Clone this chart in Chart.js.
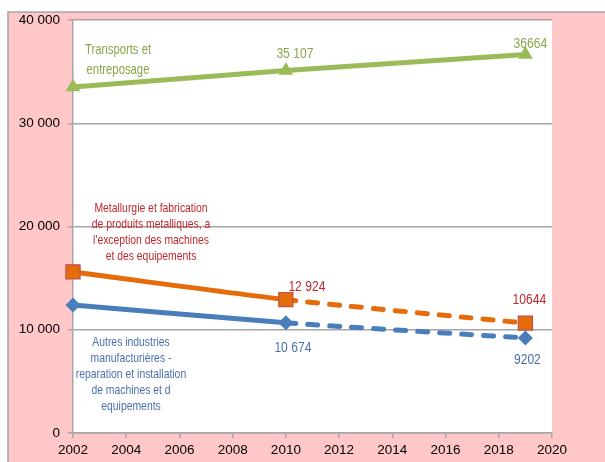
<!DOCTYPE html>
<html><head><meta charset="utf-8">
<script src="https://cdn.jsdelivr.net/npm/chart.js@4/dist/chart.umd.min.js"></script>
<style>html,body{margin:0;padding:0;background:#fff}#c{display:block}</style>
</head><body>
<canvas id="c" width="605" height="462"></canvas>
<script>
const years = [2002, 2010, 2019];
const transports = [33500, 35107, 36664];
const metallurgie = [15600, 12924, 10644];
const autres = [12400, 10674, 9202];
const transportsLabels = ['', '35 107', '36664'];
const metallurgieLabels = ['', '12 924', '10644'];
const autresLabels = ['', '10 674', '9202'];
const xTicks = [2002, 2004, 2006, 2008, 2010, 2012, 2014, 2016, 2018, 2020];
const yTicks = [0, 10000, 20000, 30000, 40000];
const seriesNames = [
  ['Transports et', 'entreposage'],
  ['Metallurgie et fabrication', 'de produits metalliques, a', "l'exception des machines", 'et des equipements'],
  ['Autres industries', 'manufacturières -', 'reparation et installation', 'de machines et d', 'equipements']
];

const FONT = "'Liberation Sans', Arial, sans-serif";
const pts = arr => years.map((y, i) => ({x: y, y: arr[i]}));
const dashAfter = ctx => ctx.p0DataIndex >= 1 ? [10, 12] : undefined;

// draw condensed text (Calibri-like width)
function narrowText(c, t, x, y, k) {
  c.save();
  c.translate(x, y);
  c.scale(k, 1);
  c.fillText(t, 0, 0);
  c.restore();
}

const bgPlugin = {
  id: 'bg',
  beforeDraw(chart) {
    const c = chart.ctx, a = chart.chartArea;
    c.save();
    c.fillStyle = '#fff'; c.fillRect(0, 0, chart.width, chart.height);
    c.fillStyle = '#ffc7c7'; c.fillRect(8, 12, chart.width - 8, chart.height - 12);
    c.strokeStyle = '#a6a6a6'; c.lineWidth = 1.5;
    c.beginPath(); c.moveTo(8, chart.height); c.lineTo(8, 12); c.lineTo(chart.width, 12); c.stroke();
    c.fillStyle = '#fff'; c.fillRect(a.left, a.top, a.right - a.left, a.bottom - a.top);
    c.restore();
  }
};

const textPlugin = {
  id: 'texts',
  afterDatasetsDraw(chart) {
    const c = chart.ctx, xs = chart.scales.x, ys = chart.scales.y;
    c.save();
    c.textAlign = 'center'; c.textBaseline = 'middle';
    const cfg = [
      {labels: transportsLabels, vals: transports, color: '#8aa64a', dy: [0, -17, -11], dx: [0, 9, 5]},
      {labels: metallurgieLabels, vals: metallurgie, color: '#c0272d', dy: [0, -13, -23], dx: [0, 21, 4]},
      {labels: autresLabels, vals: autres, color: '#4b6fae', dy: [0, 25, 22], dx: [0, 7, 2]}
    ];
    c.font = "15.5px " + FONT;
    cfg.forEach(s => {
      c.fillStyle = s.color;
      years.forEach((yr, i) => {
        if (!s.labels[i]) return;
        narrowText(c, s.labels[i], xs.getPixelForValue(yr) + s.dx[i], ys.getPixelForValue(s.vals[i]) + s.dy[i], 0.78);
      });
    });
    c.font = "14.5px " + FONT;
    c.fillStyle = '#8aa64a';
    seriesNames[0].forEach((t, i) => narrowText(c, t, 118, 50 + i * 20, 0.78));
    c.font = "13.5px " + FONT;
    c.fillStyle = '#c0272d';
    seriesNames[1].forEach((t, i) => narrowText(c, t, 151, 208 + i * 16, 0.77));
    c.fillStyle = '#4b6fae';
    seriesNames[2].forEach((t, i) => narrowText(c, t, 131, 342 + i * 16, 0.77));
    c.restore();
  }
};

new Chart(document.getElementById('c'), {
  type: 'line',
  data: {
    datasets: [
      {data: pts(transports), borderColor: '#9bbb59', backgroundColor: '#9bbb59', borderWidth: 5,
       pointStyle: 'triangle', pointRadius: 8.5, pointBorderWidth: 0, tension: 0, clip: false},
      {data: pts(metallurgie), borderColor: '#e46c0a', backgroundColor: '#e46c0a', borderWidth: 5,
       pointStyle: 'rect', pointRadius: 10, pointBorderColor: '#c0504d', pointBorderWidth: 1.2,
       tension: 0.25, borderCapStyle: 'round', segment: {borderDash: dashAfter}, clip: false},
      {data: pts(autres), borderColor: '#4a7ebb', backgroundColor: '#4a7ebb', borderWidth: 5,
       pointStyle: 'rectRot', pointRadius: 7.5, pointBorderWidth: 0,
       tension: 0.25, borderCapStyle: 'round', segment: {borderDash: dashAfter}, clip: false}
    ]
  },
  options: {
    responsive: false, animation: false, devicePixelRatio: 1,
    layout: {padding: {top: 20, right: 53, left: 0, bottom: 0}},
    plugins: {legend: {display: false}, tooltip: {enabled: false}},
    scales: {
      x: {
        type: 'linear', min: 2002, max: 2020,
        afterBuildTicks: s => { s.ticks = xTicks.map(v => ({value: v})); },
        afterFit: s => { s.height = 29; },
        grid: {drawOnChartArea: false, drawTicks: true, tickLength: 5, color: '#a6a6a6', lineWidth: 1.5},
        border: {color: '#a6a6a6', width: 1.5},
        ticks: {color: '#000', font: {family: FONT, size: 13.5}, padding: 4, callback: v => String(v), maxRotation: 0}
      },
      y: {
        min: 0, max: 40000,
        afterBuildTicks: s => { s.ticks = yTicks.map(v => ({value: v})); },
        afterFit: s => { s.width = 73; },
        grid: {color: '#a6a6a6', lineWidth: 1.5, drawTicks: true, tickLength: 5},
        border: {color: '#a6a6a6', width: 1.5},
        ticks: {color: '#000', font: {family: FONT, size: 13.5}, padding: 8,
          callback: v => v === 0 ? '0' : String(v).replace(/(\d+)(\d{3})$/, '$1 $2')}
      }
    }
  },
  plugins: [bgPlugin, textPlugin]
});
</script>
</body></html>
